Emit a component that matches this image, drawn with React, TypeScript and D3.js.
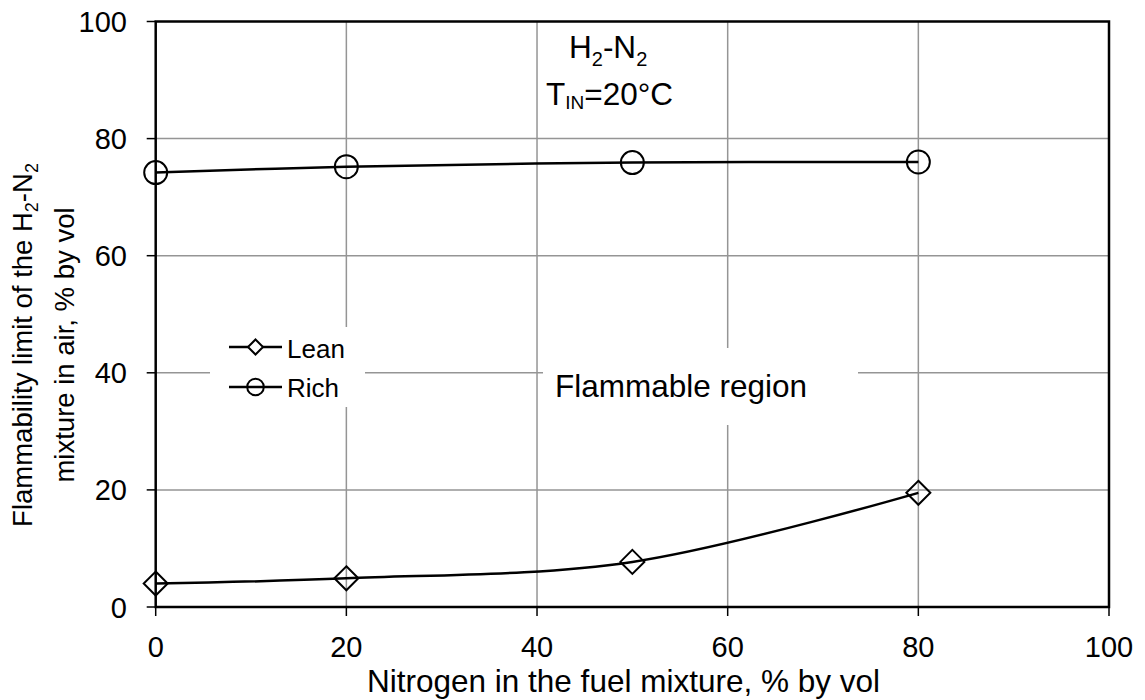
import React from "react";
import * as d3 from "d3";

const nitrogen = [0, 20, 50, 80];
const leanLimit = [4.0, 4.9, 7.7, 19.5];
const richLimit = [74.2, 75.2, 75.9, 76.0];
const xTicks = [0, 20, 40, 60, 80, 100];
const yTicks = [0, 20, 40, 60, 80, 100];

const W = 1145;
const H = 700;
const left = 155.7;
const right = 1109;
const top = 21.5;
const bottom = 607;
const FONT = "'Liberation Sans', Arial, sans-serif";

export default function App() {
  const x = d3.scaleLinear().domain([0, 100]).range([left, right]);
  const y = d3.scaleLinear().domain([0, 100]).range([bottom, top]);
  const line = d3
    .line<number>()
    .x((_, i) => x(nitrogen[i]))
    .y((d) => y(d))
    .curve(d3.curveCatmullRom.alpha(0.5));

  const diamond = (cx: number, cy: number, r: number) =>
    `M${cx},${cy - r}L${cx + r},${cy}L${cx},${cy + r}L${cx - r},${cy}Z`;

  return (
    <svg
      width={W}
      height={H}
      style={{ position: "absolute", left: 0, top: 0, background: "#fff" }}
      fontFamily={FONT}
    >
      {xTicks.slice(1, -1).map((t) => (
        <line key={"gx" + t} x1={x(t)} x2={x(t)} y1={top} y2={bottom} stroke="#959595" strokeWidth={1.5} />
      ))}
      {yTicks.slice(1, -1).map((t) => (
        <line key={"gy" + t} x1={left} x2={right} y1={y(t)} y2={y(t)} stroke="#959595" strokeWidth={1.5} />
      ))}
      <rect x={210} y={327} width={155} height={80} fill="#fff" />
      <rect x={543} y={348} width={315} height={77} fill="#fff" />

      {xTicks.map((t) => (
        <line key={"tx" + t} x1={x(t)} x2={x(t)} y1={bottom} y2={bottom + 9} stroke="#000" strokeWidth={1.5} />
      ))}
      {yTicks.map((t) => (
        <line key={"ty" + t} x1={left - 9} x2={left} y1={y(t)} y2={y(t)} stroke="#000" strokeWidth={1.5} />
      ))}
      <rect x={left} y={top} width={right - left} height={bottom - top} fill="none" stroke="#000" strokeWidth={2.5} />

      {xTicks.map((t) => (
        <text key={"lx" + t} x={x(t)} y={657} textAnchor="middle" fontSize={29}>
          {t}
        </text>
      ))}
      {yTicks.map((t) => (
        <text key={"ly" + t} x={127} y={y(t) + 10.5} textAnchor="end" fontSize={29}>
          {t}
        </text>
      ))}

      <text x={623.5} y={692} textAnchor="middle" fontSize={31.5}>
        Nitrogen in the fuel mixture, % by vol
      </text>
      <g transform="translate(32,345) rotate(-90)">
        <text x={0} y={0} textAnchor="middle" fontSize={27.5}>
          Flammability limit of the H
          <tspan fontSize={18} dy={6}>2</tspan>
          <tspan dy={-6}>-N</tspan>
          <tspan fontSize={18} dy={6}>2</tspan>
        </text>
        <text x={0} y={42} textAnchor="middle" fontSize={27.5}>
          mixture in air, % by vol
        </text>
      </g>

      <text x={569} y={58} fontSize={31.5}>
        H<tspan fontSize={20} dy={8}>2</tspan>
        <tspan dy={-8}>-N</tspan>
        <tspan fontSize={20} dy={8}>2</tspan>
      </text>
      <text x={546} y={105} fontSize={31.5}>
        T<tspan fontSize={19} dy={4}>IN</tspan>
        <tspan dy={-4}>=20°C</tspan>
      </text>
      <text x={555} y={397} fontSize={31.5}>
        Flammable region
      </text>

      <path d={line(leanLimit) || ""} fill="none" stroke="#000" strokeWidth={2.5} />
      <path d={line(richLimit) || ""} fill="none" stroke="#000" strokeWidth={2.5} />
      {leanLimit.map((v, i) => (
        <path key={"lm" + i} d={diamond(x(nitrogen[i]), y(v), 12)} fill="none" stroke="#000" strokeWidth={2} />
      ))}
      {richLimit.map((v, i) => (
        <circle key={"rm" + i} cx={x(nitrogen[i])} cy={y(v)} r={11.5} fill="none" stroke="#000" strokeWidth={2} />
      ))}

      <line x1={229} x2={282} y1={347} y2={347} stroke="#000" strokeWidth={2.5} />
      <path d={diamond(255.5, 347, 7.5)} fill="#fff" stroke="#000" strokeWidth={2} />
      <text x={287} y={358} fontSize={26}>Lean</text>
      <line x1={229} x2={282} y1={387} y2={387} stroke="#000" strokeWidth={2.5} />
      <circle cx={255.5} cy={387} r={8.3} fill="none" stroke="#000" strokeWidth={2} />
      <text x={287} y={397} fontSize={26}>Rich</text>
    </svg>
  );
}
